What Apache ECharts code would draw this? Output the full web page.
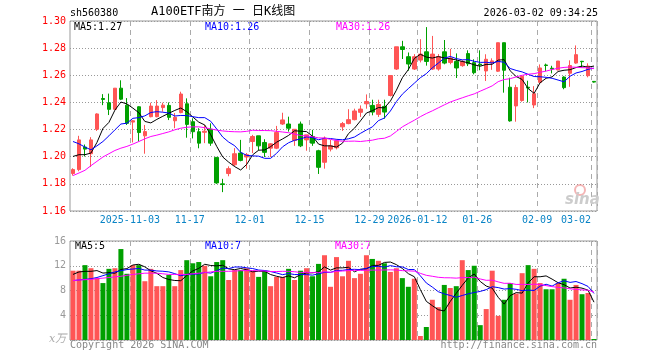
<!DOCTYPE html>
<html><head><meta charset="utf-8">
<script src="https://cdn.jsdelivr.net/npm/echarts@6/dist/echarts.min.js"></script>
<style>html,body{margin:0;padding:0;background:#fff}#c{width:660px;height:360px}</style>
</head><body><div id="c"></div>
<script>
// ---- data ----
const dates = [
 '2025-10-20','2025-10-21','2025-10-22','2025-10-23','2025-10-24','2025-10-27','2025-10-28','2025-10-29','2025-10-30','2025-10-31',
 '2025-11-03','2025-11-04','2025-11-05','2025-11-06','2025-11-07','2025-11-10','2025-11-11','2025-11-12','2025-11-13','2025-11-14',
 '2025-11-17','2025-11-18','2025-11-19','2025-11-20','2025-11-21','2025-11-24','2025-11-25','2025-11-26','2025-11-27','2025-11-28',
 '2025-12-01','2025-12-02','2025-12-03','2025-12-04','2025-12-05','2025-12-08','2025-12-09','2025-12-10','2025-12-11','2025-12-12',
 '2025-12-15','2025-12-16','2025-12-17','2025-12-18','2025-12-19','2025-12-22','2025-12-23','2025-12-24','2025-12-25','2025-12-26',
 '2025-12-29','2025-12-30','2025-12-31','2026-01-05','2026-01-06','2026-01-07','2026-01-08','2026-01-09',
 '2026-01-12','2026-01-13','2026-01-14','2026-01-15','2026-01-16','2026-01-19','2026-01-20','2026-01-21','2026-01-22','2026-01-23',
 '2026-01-26','2026-01-27','2026-01-28','2026-01-29','2026-01-30','2026-02-02','2026-02-03','2026-02-04','2026-02-05','2026-02-06',
 '2026-02-09','2026-02-10','2026-02-11','2026-02-12','2026-02-13','2026-02-24','2026-02-25','2026-02-26','2026-02-27','2026-03-02'
];
const opens = [
 1.1876,1.1905,1.2071,1.2022,1.2202,1.2429,1.2398,1.2349,1.2505,1.2380,
 1.2255,1.2368,1.2154,1.2295,1.2295,1.2362,1.2378,1.2265,1.2325,1.2390,
 1.2258,1.2184,1.2180,1.2202,1.1995,1.1800,1.1876,1.1941,1.2027,1.1998,
 1.2112,1.2154,1.2105,1.2063,1.2063,1.2241,1.2241,1.2120,1.2241,1.2124,
 1.2149,1.2044,1.1959,1.2056,1.2066,1.2220,1.2244,1.2273,1.2327,1.2390,
 1.2378,1.2312,1.2371,1.2451,1.2646,1.2810,1.2737,1.2646,
 1.2712,1.2773,1.2646,1.2646,1.2773,1.2695,1.2702,1.2671,1.2760,1.2693,
 1.2682,1.2632,1.2690,1.2630,1.2840,1.2512,1.2374,1.2414,1.2512,1.2381,
 1.2548,1.2676,1.2652,1.2640,1.2587,1.2615,1.2690,1.2703,1.2597,1.2555
];
const closes = [
 1.1905,1.2124,1.2056,1.2124,1.2315,1.2422,1.2349,1.2505,1.2424,1.2246,
 1.2265,1.2178,1.2185,1.2373,1.2373,1.2380,1.2290,1.2290,1.2462,1.2238,
 1.2184,1.2100,1.2188,1.2100,1.1807,1.1795,1.1912,1.2022,1.1973,1.2015,
 1.2149,1.2080,1.2032,1.2095,1.2178,1.2271,1.2210,1.2202,1.2080,1.2161,
 1.2100,1.1922,1.2137,1.2080,1.2117,1.2244,1.2273,1.2337,1.2351,1.2407,
 1.2329,1.2385,1.2329,1.2598,1.2810,1.2790,1.2683,1.2737,
 1.2756,1.2702,1.2756,1.2737,1.2690,1.2727,1.2654,1.2702,1.2685,1.2619,
 1.2676,1.2718,1.2706,1.2840,1.2637,1.2264,1.2510,1.2592,1.2506,1.2464,
 1.2654,1.2672,1.2646,1.2705,1.2509,1.2672,1.2752,1.2700,1.2668,1.2550
];
const lows = [
 1.1861,1.1893,1.2002,1.1924,1.2190,1.2380,1.2307,1.2344,1.2417,1.2234,
 1.2105,1.2112,1.2022,1.2290,1.2290,1.2332,1.2270,1.2210,1.2320,1.2140,
 1.2135,1.2062,1.2100,1.2080,1.1800,1.1739,1.1856,1.1929,1.1966,1.1912,
 1.2027,1.2046,1.1998,1.1998,1.2056,1.2234,1.2185,1.2080,1.2071,1.2044,
 1.2080,1.1873,1.1912,1.2039,1.2054,1.2190,1.2239,1.2268,1.2293,1.2354,
 1.2305,1.2293,1.2280,1.2444,1.2639,1.2720,1.2634,1.2639,
 1.2695,1.2671,1.2639,1.2634,1.2681,1.2681,1.2580,1.2663,1.2668,1.2607,
 1.2637,1.2558,1.2640,1.2625,1.2472,1.2258,1.2258,1.2405,1.2400,1.2358,
 1.2540,1.2630,1.2614,1.2636,1.2497,1.2515,1.2685,1.2660,1.2585,1.2546
];
const highs = [
 1.1915,1.2154,1.2090,1.2144,1.2320,1.2461,1.2465,1.2505,1.2563,1.2432,
 1.2270,1.2372,1.2234,1.2398,1.2417,1.2398,1.2400,1.2322,1.2479,1.2430,
 1.2283,1.2210,1.2234,1.2246,1.1995,1.1837,1.1929,1.2063,1.2124,1.2027,
 1.2161,1.2154,1.2129,1.2100,1.2227,1.2324,1.2295,1.2202,1.2259,1.2161,
 1.2198,1.2051,1.2149,1.2124,1.2127,1.2256,1.2350,1.2354,1.2378,1.2459,
 1.2420,1.2420,1.2420,1.2598,1.2810,1.2854,1.2768,1.2756,
 1.2866,1.2955,1.2890,1.2756,1.2860,1.2795,1.2761,1.2712,1.2784,1.2718,
 1.2784,1.2755,1.2725,1.2840,1.2840,1.2582,1.2530,1.2600,1.2560,1.2520,
 1.2680,1.2686,1.2670,1.2705,1.2593,1.2710,1.2820,1.2706,1.2688,1.2556
];
const volumes = [
 11.2,11.2,12.1,11.6,10.0,9.2,11.5,11.6,14.7,10.7,
 12.1,12.1,9.5,11.5,8.7,8.7,10.5,8.7,11.3,12.9,
 12.4,12.6,12.0,10.3,12.6,12.9,9.7,11.3,11.3,11.6,
 11.2,10.2,11.2,8.7,10.2,10.2,11.5,9.7,11.2,11.6,
 10.3,12.3,13.7,8.6,13.4,10.3,12.8,10.0,10.7,13.7,
 13.1,12.8,12.4,11.0,11.6,10.0,8.6,9.9,
 0.65,2.1,6.5,5.3,8.9,8.4,8.7,12.9,11.3,12.0,
 2.4,5.0,11.2,3.9,6.5,9.2,7.5,10.8,12.1,11.5,
 9.2,8.2,8.2,9.2,9.9,6.5,8.9,7.4,7.6,0.16
];
const ma5Lead  = [1.2002,1.2015,1.2015,1.2027];
const ma10Lead = [1.2112,1.2095,1.2071,1.2051,1.2080,1.2112,1.2154,1.2198,1.2241];
const ma30Lead = [1.1861,1.1880,1.1900,1.1934,1.1966,1.1998,1.2022,1.2046,1.2063,1.2076,
                  1.2093,1.2112,1.2132,1.2149,1.2159,1.2171,1.2183,1.2198,1.2210,1.2217,
                  1.2220,1.2220,1.2214,1.2205,1.2196,1.2190,1.2186,1.2184,1.2183];
const vma5Lead  = [10.6,11.0,11.1,11.1];
const vma10Lead = [9.6,9.7,9.8,9.9,10.1,10.4,10.7,11.0,11.2];
const vma30Lead = [9.6,9.7,9.75,9.8,9.9,10.0,10.1,10.2,10.3,10.45,
                   10.6,10.7,10.8,10.8,10.8,10.7,10.6,10.6,10.6,10.6,
                   10.7,10.8,10.9,11.0,11.1,11.1,11.1,11.15,11.2];
const tickDates  = ['2025-11-03','2025-11-17','2025-12-01','2025-12-15','2025-12-29','2026-01-12','2026-01-26','2026-02-09','2026-03-02'];
const tickLabels = ['2025-11-03','11-17','12-01','12-15','12-29','2026-01-12','01-26','02-09','03-02'];
const priceTicks = [1.16,1.30,0.02];
const volTicks = [0,16,4];

// ---- chart ----
function movingAvg(vals, n, lead){
  return vals.map((v,i)=>{
    if(i < n-1) return lead[i];
    let s=0; for(let k=i-n+1;k<=i;k++) s+=vals[k];
    return +(s/n).toFixed(4);
  });
}
const UP='#ff5555', DOWN='#00a000';
const MONO="'DejaVu Sans Mono','Liberation Mono',monospace";
const isTick=(i,v)=>tickDates.indexOf(v)>=0;
const lastTick = tickDates[tickDates.length-1];

const candleData = dates.map((d,i)=>[opens[i],closes[i],lows[i],highs[i]]);
const volData = volumes.map((v,i)=>({value:v,itemStyle:{color: closes[i]>=opens[i]?UP:DOWN}}));

const chart = echarts.init(document.getElementById('c'),null,{renderer:'canvas'});
const xCommon = {
  type:'category', data:dates, boundaryGap:true,
  axisLine:{show:false}, axisTick:{show:false},
  splitLine:{show:true, interval:isTick, lineStyle:{color:'#aaaaaa',width:1,type:[5,4]}}
};
chart.setOption({
  animation:false,
  backgroundColor:'#ffffff',
  grid:[
    {left:70, top:21, width:527, height:190, show:true, borderColor:'#999999', borderWidth:1},
    {left:70, top:241, width:527, height:99, show:true, borderColor:'#999999', borderWidth:1}
  ],
  xAxis:[
    Object.assign({}, xCommon, {gridIndex:0,
      axisLabel:{show:true, interval:isTick, margin:4, color:'#0a84c6', fontSize:10, fontFamily:MONO,
        formatter:(v)=>{const k=tickDates.indexOf(v); if(k<0) return ''; return (v===lastTick?'{b|':'{a|')+tickLabels[k]+'}';},
        rich:{a:{padding:[0,6,0,0],color:'#0a84c6',fontSize:10,fontFamily:MONO},
              b:{padding:[0,36,0,0],color:'#0a84c6',fontSize:10,fontFamily:MONO}}}}),
    Object.assign({}, xCommon, {gridIndex:1, axisLabel:{show:false}})
  ],
  yAxis:[
    {type:'value', gridIndex:0, min:priceTicks[0], max:priceTicks[1], interval:priceTicks[2],
     axisLine:{show:false}, axisTick:{show:false},
     axisLabel:{color:'#ff0000', fontSize:10, fontFamily:MONO, margin:4, formatter:v=>v.toFixed(2)},
     splitLine:{show:true, lineStyle:{color:'#999999', type:[1,2]}}},
    {type:'value', gridIndex:1, min:volTicks[0], max:volTicks[1], interval:volTicks[2],
     axisLine:{show:false}, axisTick:{show:false},
     axisLabel:{color:'#999999', fontSize:10, fontFamily:MONO, margin:4, formatter:v=>v===0?'':String(v)},
     splitLine:{show:true, lineStyle:{color:'#999999', type:[1,2]}}}
  ],
  series:[
    {type:'candlestick', xAxisIndex:0, yAxisIndex:0, data:candleData, barWidth:4,
     itemStyle:{color:UP, color0:DOWN, borderColor:UP, borderColor0:DOWN, borderWidth:1}},
    {type:'line', xAxisIndex:0, yAxisIndex:0, data:movingAvg(closes,5,ma5Lead), symbol:'none', lineStyle:{color:'#000000',width:1}, z:5},
    {type:'line', xAxisIndex:0, yAxisIndex:0, data:movingAvg(closes,10,ma10Lead), symbol:'none', lineStyle:{color:'#0000ff',width:1}, z:5},
    {type:'line', xAxisIndex:0, yAxisIndex:0, data:movingAvg(closes,30,ma30Lead), symbol:'none', lineStyle:{color:'#ff00ff',width:1}, z:5},
    {type:'bar', xAxisIndex:1, yAxisIndex:1, data:volData, barWidth:5},
    {type:'line', xAxisIndex:1, yAxisIndex:1, data:movingAvg(volumes,5,vma5Lead), symbol:'none', lineStyle:{color:'#000000',width:1}, z:5},
    {type:'line', xAxisIndex:1, yAxisIndex:1, data:movingAvg(volumes,10,vma10Lead), symbol:'none', lineStyle:{color:'#0000ff',width:1}, z:5},
    {type:'line', xAxisIndex:1, yAxisIndex:1, data:movingAvg(volumes,30,vma30Lead), symbol:'none', lineStyle:{color:'#ff00ff',width:1}, z:5}
  ],
  graphic:[
    {type:'text', left:70, top:8, style:{text:'sh560380', font:'10px '+MONO, fill:'#000'}},
    {type:'text', left:151, top:6, style:{text:'A100ETF南方 一 日K线图', font:"12px 'DejaVu Sans Mono','Noto Sans CJK SC',monospace", fill:'#000'}},
    {type:'text', right:62, top:8, style:{text:'2026-03-02 09:34:25', font:'10px '+MONO, fill:'#000'}},
    {type:'text', left:74, top:22, style:{text:'MA5:1.27', font:'10px '+MONO, fill:'#000000'}},
    {type:'text', left:205, top:22, style:{text:'MA10:1.26', font:'10px '+MONO, fill:'#0000ff'}},
    {type:'text', left:336, top:22, style:{text:'MA30:1.26', font:'10px '+MONO, fill:'#ff00ff'}},
    {type:'text', left:75, top:241, style:{text:'MA5:5', font:'10px '+MONO, fill:'#000000'}},
    {type:'text', left:205, top:241, style:{text:'MA10:7', font:'10px '+MONO, fill:'#0000ff'}},
    {type:'text', left:335, top:241, style:{text:'MA30:7', font:'10px '+MONO, fill:'#ff00ff'}},
    {type:'text', left:49, top:334, style:{text:'x万', font:"italic 11px 'DejaVu Serif','Noto Sans CJK SC',serif", fill:'#aaaaaa'}},
    {type:'text', left:70, top:340, style:{text:'Copyright 2026 SINA.COM', font:'10px '+MONO, fill:'#888888'}},
    {type:'text', right:63, top:340, style:{text:'http://finance.sina.com.cn', font:'10px '+MONO, fill:'#888888'}},
    {type:'circle', shape:{cx:580, cy:190, r:5}, style:{fill:'none', stroke:'rgba(235,120,120,0.55)', lineWidth:2}, z:1},
    {type:'text', left:565, top:193, style:{text:'sina', font:"italic bold 15px 'DejaVu Sans',sans-serif", fill:'#cccccc'}, z:1}
  ]
});
</script></body></html>
